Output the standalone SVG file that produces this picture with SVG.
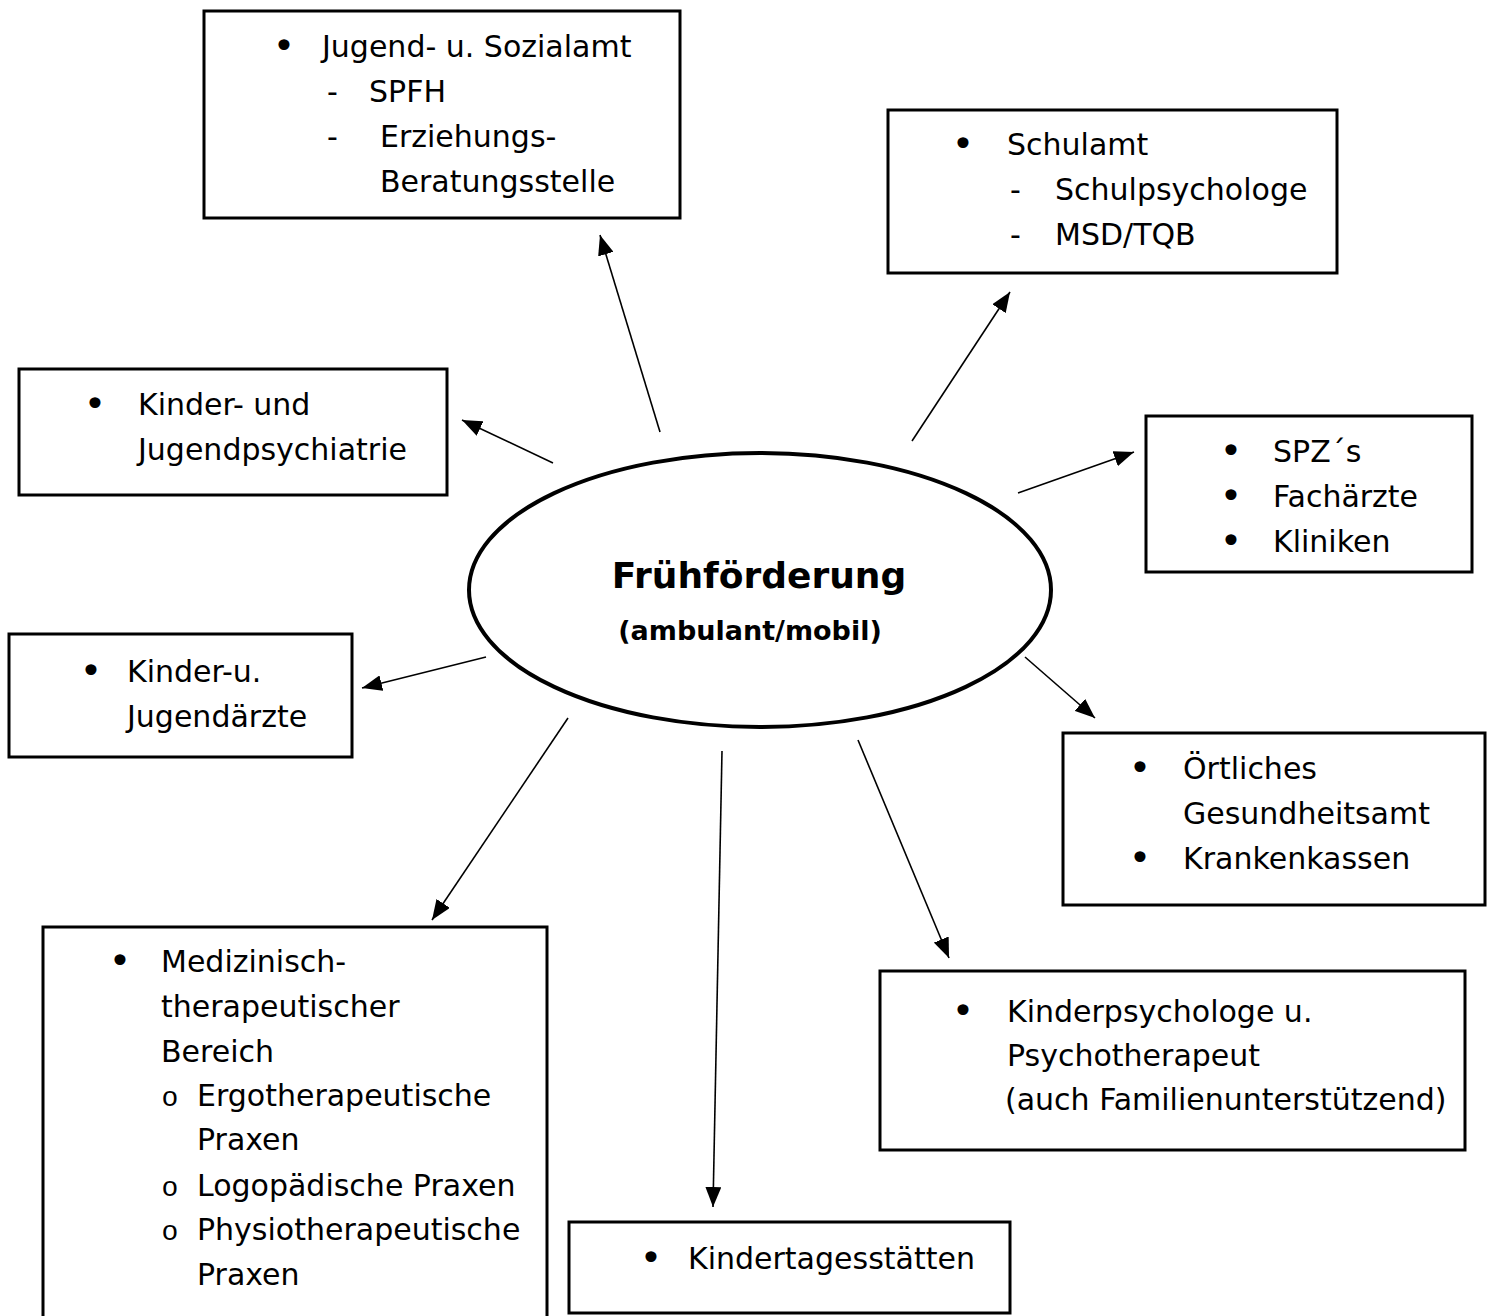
<svg xmlns="http://www.w3.org/2000/svg" width="1493" height="1316" viewBox="0 0 1493 1316">
<defs>
<marker id="ah" viewBox="0 0 20 16" refX="20" refY="8" markerWidth="20" markerHeight="16" markerUnits="userSpaceOnUse" orient="auto">
<path d="M0,0 L20,8 L0,16 Z" fill="#000"/>
</marker>
<style>
.box{fill:#fff;stroke:#000;stroke-width:3}
.t{font-family:"Comic Sans MS","DejaVu Sans",sans-serif;font-size:30px;fill:#000}
.b{font-family:"DejaVu Sans",sans-serif;font-size:38px;fill:#000;text-anchor:middle}
.o{font-family:"Liberation Mono",monospace;font-size:28px;fill:#000;text-anchor:middle}
.c{stroke:#000;stroke-width:1.6;fill:none;marker-end:url(#ah)}
</style>
</defs>
<rect width="1493" height="1316" fill="#fff"/>
<g id="connectors">
<line class="c" x1="660" y1="432" x2="600" y2="235"/>
<line class="c" x1="912" y1="441" x2="1010" y2="292"/>
<line class="c" x1="553" y1="463" x2="462" y2="420"/>
<line class="c" x1="1018" y1="493" x2="1134" y2="452"/>
<line class="c" x1="486" y1="657" x2="362" y2="688"/>
<line class="c" x1="1025" y1="657" x2="1095" y2="718"/>
<line class="c" x1="568" y1="718" x2="432" y2="920"/>
<line class="c" x1="722" y1="751" x2="713" y2="1207"/>
<line class="c" x1="858" y1="740" x2="949" y2="958"/>
</g>
<g id="center">
<ellipse cx="760" cy="590" rx="291" ry="137" fill="#fff" stroke="#000" stroke-width="4"/>
<text x="759" y="588" text-anchor="middle" style="font-family:'Comic Sans MS','DejaVu Sans',sans-serif;font-weight:bold;font-size:36px">Frühförderung</text>
<text x="750" y="640" text-anchor="middle" style="font-family:'Comic Sans MS','DejaVu Sans',sans-serif;font-weight:bold;font-size:27px">(ambulant/mobil)</text>
</g>
<g id="jugendamt">
<rect class="box" x="204" y="11" width="476" height="207"/>
<text class="b" x="284" y="59">•</text>
<text class="t" x="322" y="57">Jugend- u. Sozialamt</text>
<text class="t" x="327" y="102">-</text>
<text class="t" x="369" y="102">SPFH</text>
<text class="t" x="327" y="147">-</text>
<text class="t" x="380" y="147">Erziehungs-</text>
<text class="t" x="380" y="192">Beratungsstelle</text>
</g>
<g id="schulamt">
<rect class="box" x="888" y="110" width="449" height="163"/>
<text class="b" x="963" y="157">•</text>
<text class="t" x="1007" y="155">Schulamt</text>
<text class="t" x="1010" y="200">-</text>
<text class="t" x="1055" y="200">Schulpsychologe</text>
<text class="t" x="1010" y="245">-</text>
<text class="t" x="1055" y="245">MSD/TQB</text>
</g>
<g id="psychiatrie">
<rect class="box" x="19" y="369" width="428" height="126"/>
<text class="b" x="95" y="417">•</text>
<text class="t" x="138" y="415">Kinder- und</text>
<text class="t" x="138" y="460">Jugendpsychiatrie</text>
</g>
<g id="spz">
<rect class="box" x="1146" y="416" width="326" height="156"/>
<text class="b" x="1231" y="464">•</text>
<text class="t" x="1273" y="462">SPZ´s</text>
<text class="b" x="1231" y="509">•</text>
<text class="t" x="1273" y="507">Fachärzte</text>
<text class="b" x="1231" y="554">•</text>
<text class="t" x="1273" y="552">Kliniken</text>
</g>
<g id="aerzte">
<rect class="box" x="9" y="634" width="343" height="123"/>
<text class="b" x="91" y="684">•</text>
<text class="t" x="127" y="682">Kinder-u.</text>
<text class="t" x="127" y="727">Jugendärzte</text>
</g>
<g id="gesundheitsamt">
<rect class="box" x="1063" y="733" width="422" height="172"/>
<text class="b" x="1140" y="781">•</text>
<text class="t" x="1183" y="779">Örtliches</text>
<text class="t" x="1183" y="824">Gesundheitsamt</text>
<text class="b" x="1140" y="871">•</text>
<text class="t" x="1183" y="869">Krankenkassen</text>
</g>
<g id="medizinisch">
<rect class="box" x="43" y="927" width="504" height="395"/>
<text class="b" x="120" y="974">•</text>
<text class="t" x="161" y="972">Medizinisch-</text>
<text class="t" x="161" y="1017">therapeutischer</text>
<text class="t" x="161" y="1062">Bereich</text>
<text class="o" x="170" y="1106">o</text>
<text class="t" x="197" y="1106">Ergotherapeutische</text>
<text class="t" x="197" y="1150">Praxen</text>
<text class="o" x="170" y="1196">o</text>
<text class="t" x="197" y="1196">Logopädische Praxen</text>
<text class="o" x="170" y="1240">o</text>
<text class="t" x="197" y="1240">Physiotherapeutische</text>
<text class="t" x="197" y="1285">Praxen</text>
</g>
<g id="kinderpsychologe">
<rect class="box" x="880" y="971" width="585" height="179"/>
<text class="b" x="963" y="1024">•</text>
<text class="t" x="1007" y="1022">Kinderpsychologe u.</text>
<text class="t" x="1007" y="1066">Psychotherapeut</text>
<text class="t" x="1005" y="1110">(auch Familienunterstützend)</text>
</g>
<g id="kita">
<rect class="box" x="569" y="1222" width="441" height="91"/>
<text class="b" x="651" y="1271">•</text>
<text class="t" x="688" y="1269">Kindertagesstätten</text>
</g>
</svg>
